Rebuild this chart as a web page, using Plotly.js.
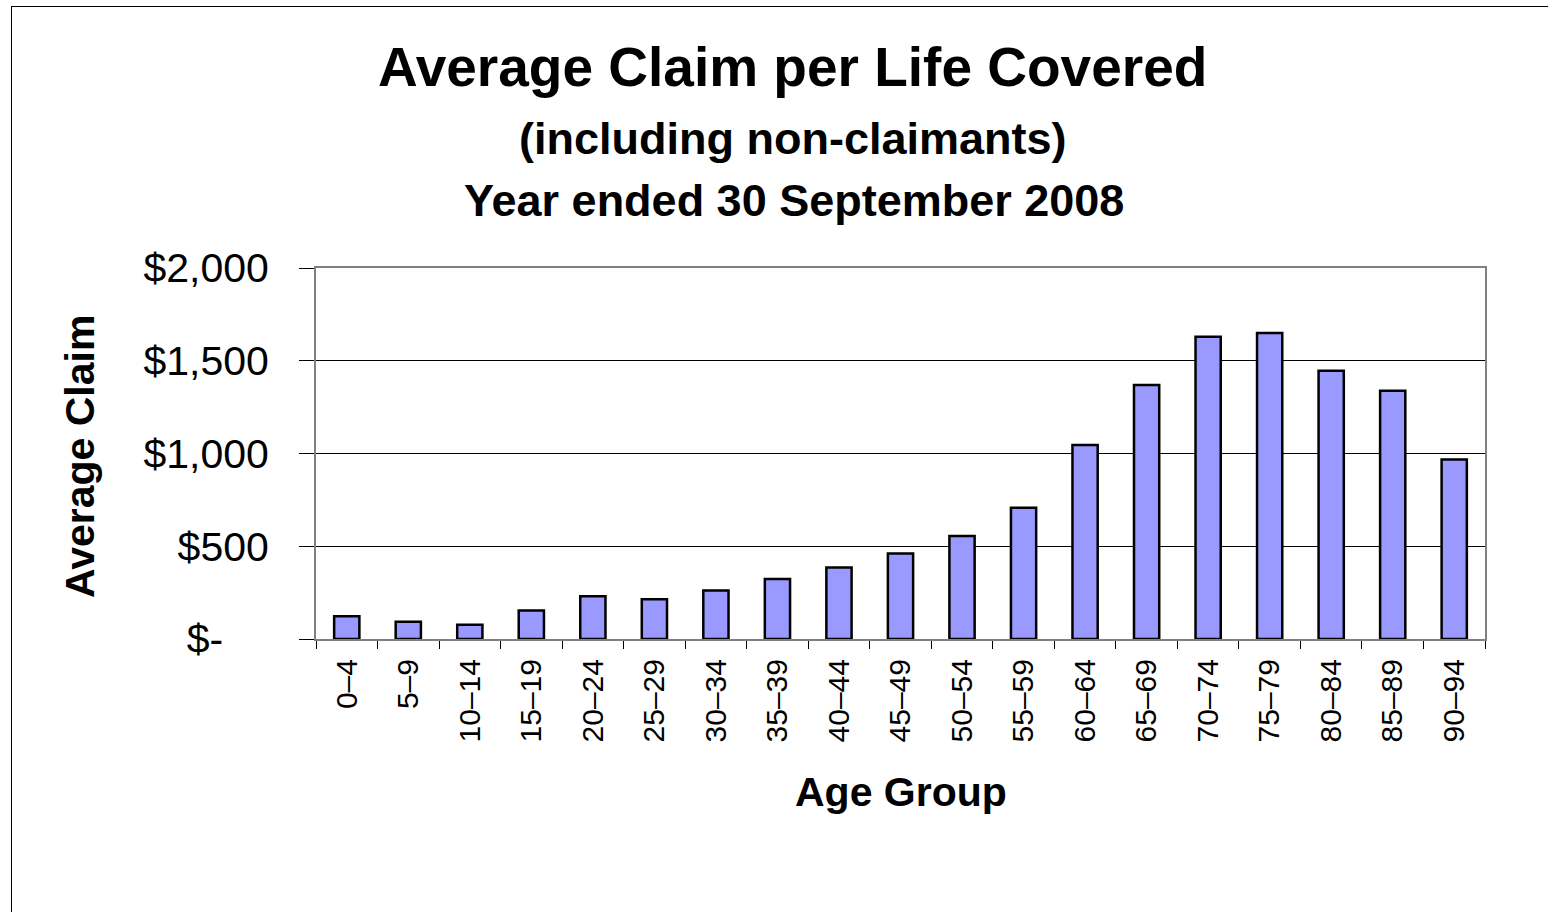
<!DOCTYPE html>
<html>
<head>
<meta charset="utf-8">
<script src="https://cdn.plot.ly/plotly-3.0.1.min.js"></script>
<style>
  html, body { margin: 0; padding: 0; background: #fff; }
  #chart { position: absolute; left: 0; top: 0; width: 1548px; height: 912px; }
  #frame { position: absolute; left: 11px; top: 6px; width: 2000px; height: 2000px;
           border-left: 1px solid #000; border-top: 1px solid #000; pointer-events: none; }
</style>
</head>
<body>
<div id="chart"></div>
<div id="frame"></div>
<script>
const ageGroups = ["0–4","5–9","10–14","15–19","20–24","25–29","30–34","35–39","40–44","45–49",
                   "50–54","55–59","60–64","65–69","70–74","75–79","80–84","85–89","90–94"];
const averageClaim = [122, 93, 77, 153, 230, 214, 261, 324, 385, 461,
                      555, 708, 1046, 1369, 1630, 1649, 1446, 1338, 967];
const yTickVals = [0, 500, 1000, 1500, 2000];
const yTickText = ["$-\u00A0\u00A0\u00A0\u00A0", "$500", "$1,000", "$1,500", "$2,000"];
const titleLines = ["Average Claim per Life Covered", "(including non-claimants)", "Year ended 30 September 2008"];
const xTitle = "Age Group";
const yTitle = "Average Claim";

const FONT = "Liberation Sans, Arial, Helvetica, sans-serif";

const trace = {
  type: "bar",
  x: ageGroups,
  y: averageClaim,
  marker: { color: "#9999ff", line: { color: "#000000", width: 2.5 } },
  hoverinfo: "x+y"
};

const layout = {
  width: 1548,
  height: 912,
  margin: { l: 316, r: 63, t: 268, b: 273, pad: 0 },
  paper_bgcolor: "#ffffff",
  plot_bgcolor: "#ffffff",
  bargap: 0.59,
  showlegend: false,
  font: { family: FONT, color: "#000" },
  xaxis: {
    type: "category",
    tickson: "boundaries",
    ticks: "outside",
    ticklen: 8,
    tickwidth: 1,
    tickcolor: "#000",
    tickangle: -90,
    tickfont: { family: FONT, size: 30, color: "#000" },
    showline: true,
    linecolor: "#808080",
    linewidth: 2,
    mirror: true,
    showgrid: false,
    zeroline: false,
    ticklabelstandoff: 6
  },
  yaxis: {
    range: [0, 2000],
    tickvals: yTickVals,
    ticktext: yTickText,
    ticks: "outside",
    ticklen: 15,
    tickwidth: 1,
    tickcolor: "#000",
    tickfont: { family: FONT, size: 41, color: "#000" },
    showline: true,
    linecolor: "#808080",
    linewidth: 2,
    mirror: true,
    showgrid: true,
    gridcolor: "#000000",
    gridwidth: 1,
    zeroline: false,
    ticklabelstandoff: 22
  },
  annotations: [
    { text: "<b>" + titleLines[0] + "</b>", xref: "paper", yref: "paper", x: 0.408, y: 1.542,
      xanchor: "center", yanchor: "middle", showarrow: false, font: { family: FONT, size: 55, color: "#000" } },
    { text: "<b>" + titleLines[1] + "</b>", xref: "paper", yref: "paper", x: 0.408, y: 1.350,
      xanchor: "center", yanchor: "middle", showarrow: false, font: { family: FONT, size: 45, color: "#000" } },
    { text: "<b>" + titleLines[2] + "</b>", xref: "paper", yref: "paper", x: 0.409, y: 1.183,
      xanchor: "center", yanchor: "middle", showarrow: false, font: { family: FONT, size: 45, color: "#000" } },
    { text: "<b>" + xTitle + "</b>", xref: "paper", yref: "paper", x: 0.5, y: -0.412,
      xanchor: "center", yanchor: "middle", showarrow: false, font: { family: FONT, size: 41, color: "#000" } },
    { text: "<b>" + yTitle + "</b>", xref: "paper", yref: "paper", x: -0.202, y: 0.493,
      xanchor: "center", yanchor: "middle", textangle: -90, showarrow: false, font: { family: FONT, size: 41, color: "#000" } }
  ]
};

Plotly.newPlot("chart", [trace], layout, { displayModeBar: false, staticPlot: true });
</script>
</body>
</html>
